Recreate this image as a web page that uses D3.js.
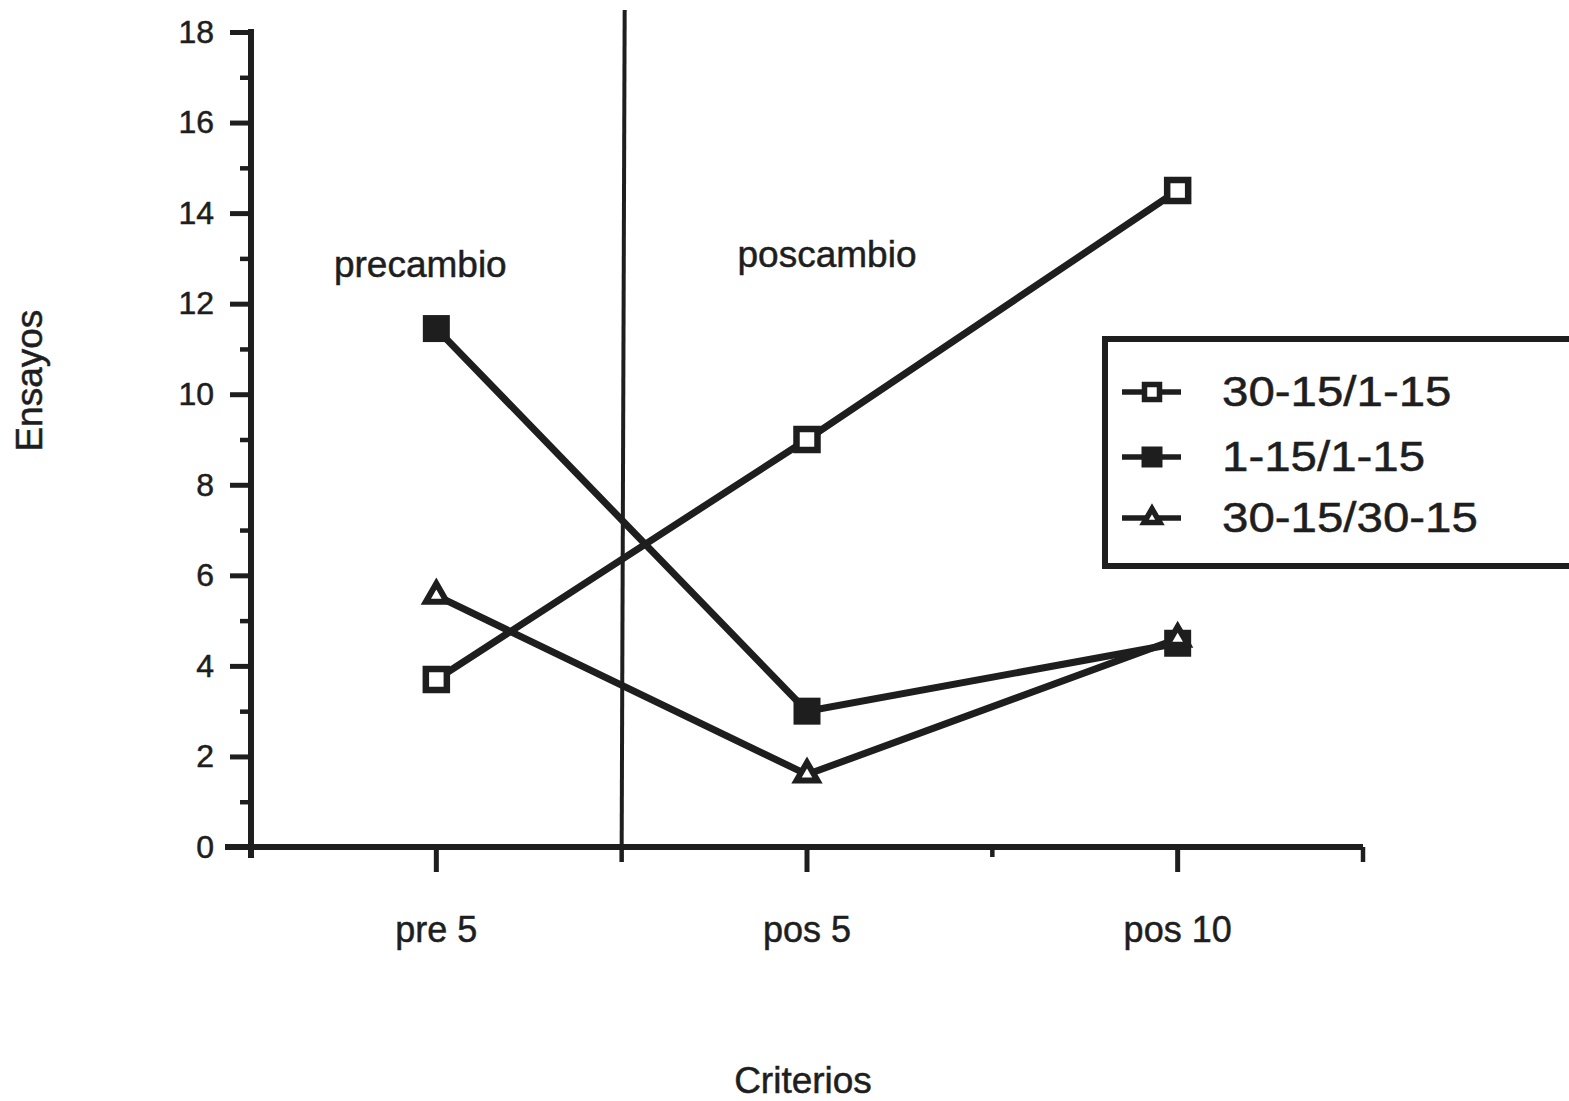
<!DOCTYPE html>
<html>
<head>
<meta charset="utf-8">
<script src="https://cdn.jsdelivr.net/npm/d3@7/dist/d3.min.js"></script>
<style>
  html, body { margin: 0; padding: 0; background: #fff; }
  svg { display: block; }
  text { font-family: "Liberation Sans", Arial, Helvetica, sans-serif; fill: #1e1e1e; stroke: #1e1e1e; stroke-width: 0.5px; }
</style>
</head>
<body>
<script>
// ---- data ----
const categories = ["pre 5", "pos 5", "pos 10"];
const seriesNames = ["30-15/1-15", "1-15/1-15", "30-15/30-15"];
const seriesOpenSquare = [3.7, 9.0, 14.5];     // 30-15/1-15
const seriesFilledSquare = [11.45, 3.0, 4.5];  // 1-15/1-15
const seriesTriangle = [5.55, 1.6, 4.6];       // 30-15/30-15
const yMajorTicks = [0, 2, 4, 6, 8, 10, 12, 14, 16, 18];
const yMinorTicks = [1, 3, 5, 7, 9, 11, 13, 15, 17];
const phaseLabels = ["precambio", "poscambio"];
const yTitle = "Ensayos";
const xTitle = "Criterios";

// ---- layout ----
const W = 1569, H = 1101;
const ink = "#1e1e1e";
const svg = d3.select("body").append("svg").attr("width", W).attr("height", H);
svg.append("rect").attr("width", W).attr("height", H).attr("fill", "#fff");

const x = d3.scaleBand().domain(categories).range([251, 1363]).padding(0);
const y = d3.scaleLinear().domain([0, 18]).range([847, 32]);
const cx = c => x(c) + x.bandwidth() / 2;

// vertical phase divider at boundary between pre 5 and pos 5
const divX = x(categories[1]);
svg.append("line").attr("x1", divX).attr("x2", divX + 3)
  .attr("y1", y(0)).attr("y2", 10)
  .attr("stroke", ink).attr("stroke-width", 4);

// y axis major
const yAxis = d3.axisLeft(y).tickValues(yMajorTicks).tickSize(21).tickSizeOuter(0).tickPadding(16);
const gy = svg.append("g").attr("transform", `translate(${x.range()[0]},0)`).call(yAxis);
gy.select(".domain").attr("stroke", ink).attr("stroke-width", 6).attr("d", `M0,${y(18) - 3}V${y(0) + 11}`);
gy.selectAll(".tick line").attr("stroke", ink).attr("stroke-width", 5);
gy.selectAll(".tick text").attr("font-size", 32).attr("fill", ink).style("font-family", "'Liberation Sans', Arial, sans-serif");
// y axis minor
const yMinor = d3.axisLeft(y).tickValues(yMinorTicks).tickSize(11).tickFormat("");
const gym = svg.append("g").attr("transform", `translate(${x.range()[0]},0)`).call(yMinor);
gym.select(".domain").remove();
gym.selectAll(".tick line").attr("stroke", ink).attr("stroke-width", 4.5);

// x axis
const xAxis = d3.axisBottom(x).tickSize(25).tickSizeOuter(0).tickPadding(44);
const gx = svg.append("g").attr("transform", `translate(0,${y(0)})`).call(xAxis);
gx.select(".domain").attr("stroke", ink).attr("stroke-width", 6)
  .attr("d", `M${x.range()[0] - 26},0H${x.range()[1]}`);
gx.selectAll(".tick line").attr("stroke", ink).attr("stroke-width", 5);
gx.selectAll(".tick text").attr("font-size", 36).attr("fill", ink).style("font-family", "'Liberation Sans', Arial, sans-serif");
// boundary ticks
const boundaries = categories.map(c => x(c) + x.bandwidth());
gx.selectAll(".btick").data(boundaries).join("line")
  .attr("x1", d => d).attr("x2", d => d).attr("y1", 0).attr("y2", (d, i) => i === 1 ? 10 : 15)
  .attr("stroke", ink).attr("stroke-width", 4.5);

// lines
const line = d3.line().x((d, i) => cx(categories[i])).y(d => y(d));
[seriesOpenSquare, seriesFilledSquare, seriesTriangle].forEach(s => {
  svg.append("path").datum(s).attr("d", line).attr("fill", "none")
    .attr("stroke", ink).attr("stroke-width", 7).attr("stroke-linejoin", "miter");
});

// markers
const sqOpen = d3.symbol().type(d3.symbolSquare).size(21 * 21);
const sqFilled = d3.symbol().type(d3.symbolSquare).size(27 * 27);
const tri = d3.symbol().type(d3.symbolTriangle).size(190);

svg.selectAll(".mOpen").data(seriesOpenSquare).join("path")
  .attr("transform", (d, i) => `translate(${cx(categories[i])},${y(d)})`)
  .attr("d", sqOpen).attr("fill", "#fff").attr("stroke", ink).attr("stroke-width", 6.5);
svg.selectAll(".mFill").data(seriesFilledSquare).join("path")
  .attr("transform", (d, i) => `translate(${cx(categories[i])},${y(d)})`)
  .attr("d", sqFilled).attr("fill", ink);
svg.selectAll(".mTri").data(seriesTriangle).join("path")
  .attr("transform", (d, i) => `translate(${cx(categories[i])},${y(d)})`)
  .attr("d", tri).attr("fill", "#fff").attr("stroke", ink).attr("stroke-width", 6).attr("stroke-linejoin", "miter");

// phase labels
svg.append("text").attr("x", cx(categories[0]) - 16).attr("y", y(12.6))
  .attr("text-anchor", "middle").attr("font-size", 37).text(phaseLabels[0]);
svg.append("text").attr("x", cx(categories[1]) + 20).attr("y", y(12.82))
  .attr("text-anchor", "middle").attr("font-size", 37).text(phaseLabels[1]);

// axis titles
svg.append("text").attr("transform", `translate(42,${y(10.3)}) rotate(-90)`)
  .attr("text-anchor", "middle").attr("font-size", 37).text(yTitle);
svg.append("text").attr("x", cx(categories[1]) - 4).attr("y", 1093)
  .attr("text-anchor", "middle").attr("font-size", 37).text(xTitle);

// legend
const lg = svg.append("g");
lg.append("rect").attr("x", 1105).attr("y", 339).attr("width", 500).attr("height", 227)
  .attr("fill", "#fff").attr("stroke", ink).attr("stroke-width", 6);
const legendRows = [392, 457, 518];
const legendSym = [
  g => g.append("path").attr("d", d3.symbol().type(d3.symbolSquare).size(15 * 15)).attr("fill", "#fff").attr("stroke", ink).attr("stroke-width", 5.5),
  g => g.append("path").attr("d", d3.symbol().type(d3.symbolSquare).size(21 * 21)).attr("fill", ink),
  g => g.append("path").attr("d", d3.symbol().type(d3.symbolTriangle).size(110)).attr("fill", "#fff").attr("stroke", ink).attr("stroke-width", 5.5)
];
seriesNames.forEach((name, i) => {
  const row = lg.append("g").attr("transform", `translate(1152,${legendRows[i]})`);
  row.append("line").attr("x1", -30).attr("x2", 29).attr("stroke", ink).attr("stroke-width", 5.5);
  legendSym[i](row);
  lg.append("text").attr("transform", `translate(1222,${legendRows[i] + 14}) scale(1.13,1)`)
    .attr("font-size", 42).text(name);
});
</script>
</body>
</html>
